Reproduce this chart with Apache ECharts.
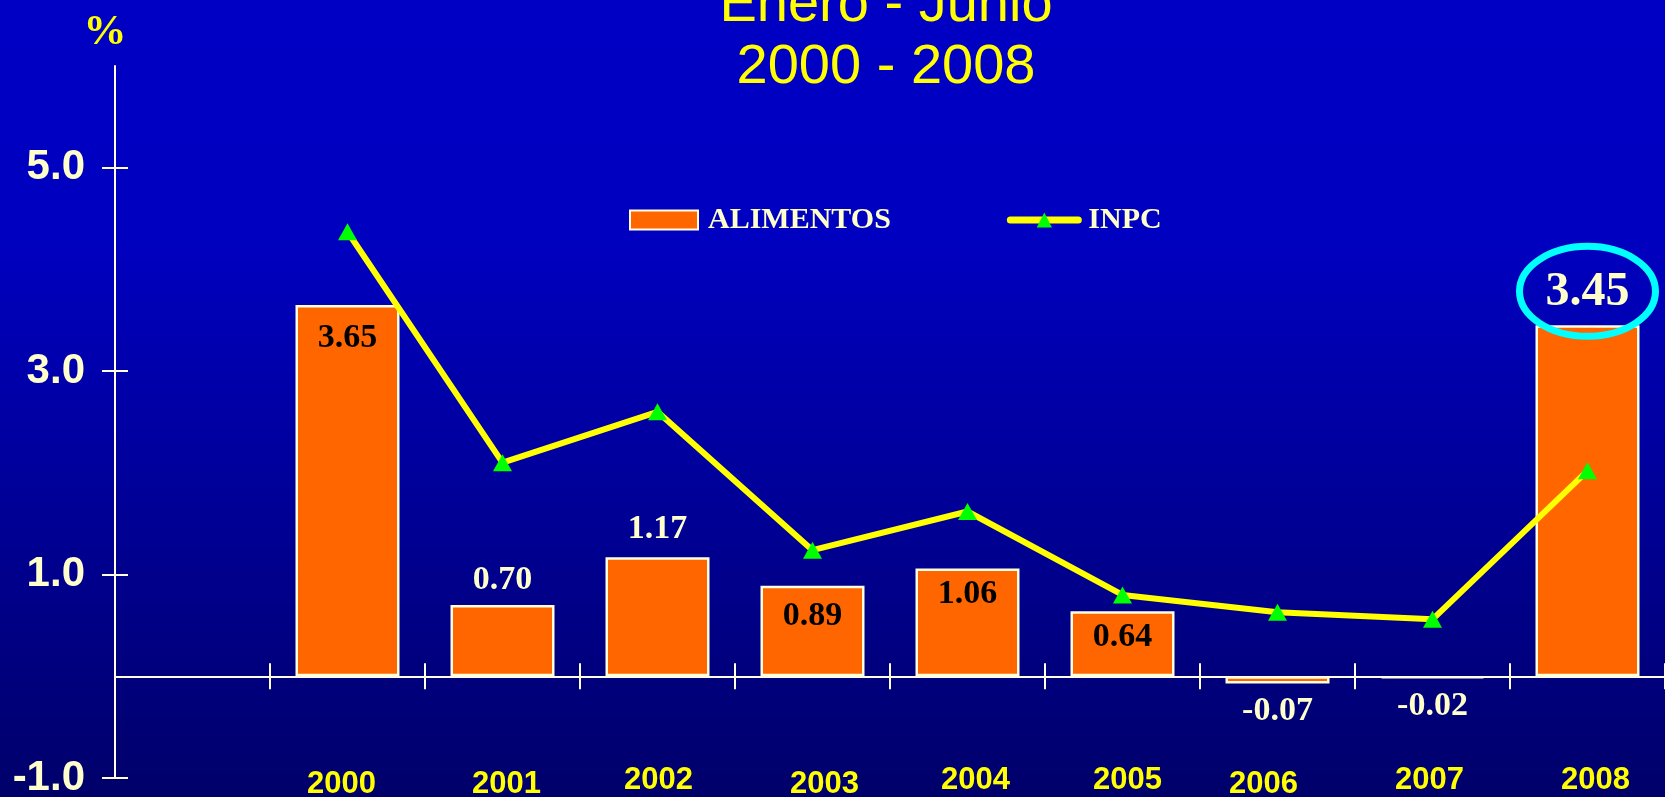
<!DOCTYPE html>
<html><head><meta charset="utf-8">
<script src="https://cdn.jsdelivr.net/npm/echarts@6/dist/echarts.min.js"></script>
<style>html,body{margin:0;padding:0;background:#0000c4}#c{width:1665px;height:797px}</style>
</head><body><div id="c"></div>
<script>
// ---- data ----
const categories = ['', '2000', '2001', '2002', '2003', '2004', '2005', '2006', '2007', '2008'];
const alimentos = [null, 3.65, 0.70, 1.17, 0.89, 1.06, 0.64, -0.07, -0.02, 3.45];
const inpc = [null, 4.37, 2.10, 2.60, 1.24, 1.62, 0.80, 0.63, 0.56, 2.02];
const yTicks = [-1, 1, 3, 5];
const titleLines = ['Enero - Junio', '2000 - 2008'];
const seriesNames = ['ALIMENTOS', 'INPC'];
const yUnit = '%';

// ---- layout / style (not data) ----
const labelPos = [null, 'insideTop', 'top', 'top', 'insideTop', 'insideTop', 'insideTop', 'bottom', 'bottom', 'top'];
const labelDist = [0, 16, 8, 11, 13, 9, 9, 11, 11, 9];
const yearNudgeX = [0, -6, 4, 1, 12, 8, 5, -14, -3, 8];
const yearNudgeY = [0, 4, 4, 0, 4, 0, 0, 4, 0, 0];
const CREAM = '#FFFFCC';
const AXIS = '#FFFFE0';

const chart = echarts.init(document.getElementById('c'));

const barData = alimentos.map((v, i) => {
  if (v == null) return null;
  const inside = labelPos[i].indexOf('inside') === 0;
  const big = i === alimentos.length - 1;
  return {
    value: v,
    label: {
      position: labelPos[i],
      distance: labelDist[i],
      color: inside ? '#000000' : CREAM,
      fontSize: big ? 48 : 34
    }
  };
});

const rich = {};
categories.forEach((c, i) => {
  const dx = yearNudgeX[i], dy = yearNudgeY[i];
  rich['y' + i] = {
    color: '#FFFF00', fontFamily: 'Liberation Sans', fontWeight: 'bold', fontSize: 31,
    padding: [dy, dx < 0 ? -2 * dx : 0, 0, dx > 0 ? 2 * dx : 0]
  };
});

const yCommon = {
  type: 'value', min: -1, max: 6, position: 'left',
  splitLine: { show: false }
};

chart.setOption({
  backgroundColor: new echarts.graphic.LinearGradient(0, 0, 0, 1, [
    { offset: 0, color: '#0000C4' },
    { offset: 0.3, color: '#0000C0' },
    { offset: 1, color: '#00006A' }
  ]),
  title: {
    text: titleLines.join('\n'),
    left: 886, top: -25, textAlign: 'center', padding: 0,
    textStyle: {
      color: '#FFFF00', fontFamily: 'Liberation Sans', fontWeight: 'normal', fontSize: 56, lineHeight: 62,
      textShadowColor: '#000000', textShadowOffsetX: 2, textShadowOffsetY: 2, textShadowBlur: 0
    }
  },
  legend: {
    data: [{ name: seriesNames[0], icon: 'rect' }, { name: seriesNames[1] }],
    left: 624, top: 200,
    itemWidth: 68, itemHeight: 19, itemGap: 116,
    lineStyle: { width: 7, cap: 'round' },
    textStyle: { color: CREAM, fontFamily: 'Liberation Serif', fontWeight: 'bold', fontSize: 30, padding: [0, 0, 0, 5] }
  },
  grid: { left: 115, right: 0, top: 66, bottom: 19, containLabel: false, outerBoundsMode: 'none' },
  xAxis: [
    {
      type: 'category', data: categories, boundaryGap: true, position: 'bottom',
      axisLine: { onZero: true, onZeroAxisIndex: 0, lineStyle: { color: AXIS, width: 2 } },
      axisTick: { show: true, inside: false, length: 13, interval: 0, lineStyle: { color: AXIS, width: 2 } },
      axisLabel: {
        interval: 0, margin: -13,
        formatter: (v, i) => v === '' ? '' : '{y' + i + '|' + v + '}',
        rich: rich
      },
      splitLine: { show: false }
    },
    {
      type: 'category', data: categories, boundaryGap: true, position: 'bottom',
      axisLine: { show: false, onZero: true, onZeroAxisIndex: 0 },
      axisTick: { show: true, inside: true, length: 13, interval: 0, lineStyle: { color: AXIS, width: 2 } },
      axisLabel: { show: false },
      splitLine: { show: false }
    }
  ],
  yAxis: [
    Object.assign({}, yCommon, {
      name: yUnit, nameLocation: 'end', nameGap: 33,
      nameTextStyle: {
        color: '#FFFF00', fontFamily: 'Liberation Serif', fontWeight: 'bold', fontSize: 43,
        align: 'center', verticalAlign: 'middle', padding: [0, 20, 0, 0],
        textShadowColor: '#000000', textShadowOffsetX: 2, textShadowOffsetY: 2
      },
      axisLine: { show: true, onZero: false, lineStyle: { color: AXIS, width: 2 } },
      axisTick: { show: true, inside: false, length: 13, customValues: yTicks, lineStyle: { color: AXIS, width: 2 } },
      axisLabel: {
        customValues: yTicks, margin: 30,
        formatter: v => v.toFixed(1),
        color: CREAM, fontFamily: 'Liberation Sans', fontWeight: 'bold', fontSize: 42
      }
    }),
    Object.assign({}, yCommon, {
      axisLine: { show: false, onZero: false },
      axisTick: { show: true, inside: true, length: 13, customValues: yTicks, lineStyle: { color: AXIS, width: 2 } },
      axisLabel: { show: false }
    })
  ],
  series: [
    {
      name: seriesNames[0], type: 'bar', data: barData, barWidth: 104,
      xAxisIndex: 0, yAxisIndex: 0,
      itemStyle: { color: '#FF6600', borderColor: AXIS, borderWidth: 2.5 },
      label: { show: true, formatter: p => p.value.toFixed(2), fontFamily: 'Liberation Serif', fontWeight: 'bold', fontSize: 34 },
      z: 2
    },
    {
      name: seriesNames[1], type: 'line', data: inpc,
      xAxisIndex: 0, yAxisIndex: 0,
      symbol: 'triangle', symbolSize: [19, 17],
      itemStyle: { color: '#00FF00' },
      lineStyle: { color: '#FFFF00', width: 6, cap: 'round' },
      z: 3, animation: false
    }
  ],
  animation: false
});

// annotation ring around the last bar's label, positioned via the axis scales
const last = categories.length - 1;
const p = chart.convertToPixel({ xAxisIndex: 0, yAxisIndex: 0 }, [categories[last], alimentos[last]]);
chart.setOption({
  graphic: [{
    type: 'ellipse', z: 100,
    shape: { cx: p[0], cy: p[1] - 34, rx: 68, ry: 45 },
    style: { fill: 'none', stroke: '#00FFFF', lineWidth: 7 }
  }]
});
</script>
</body></html>
